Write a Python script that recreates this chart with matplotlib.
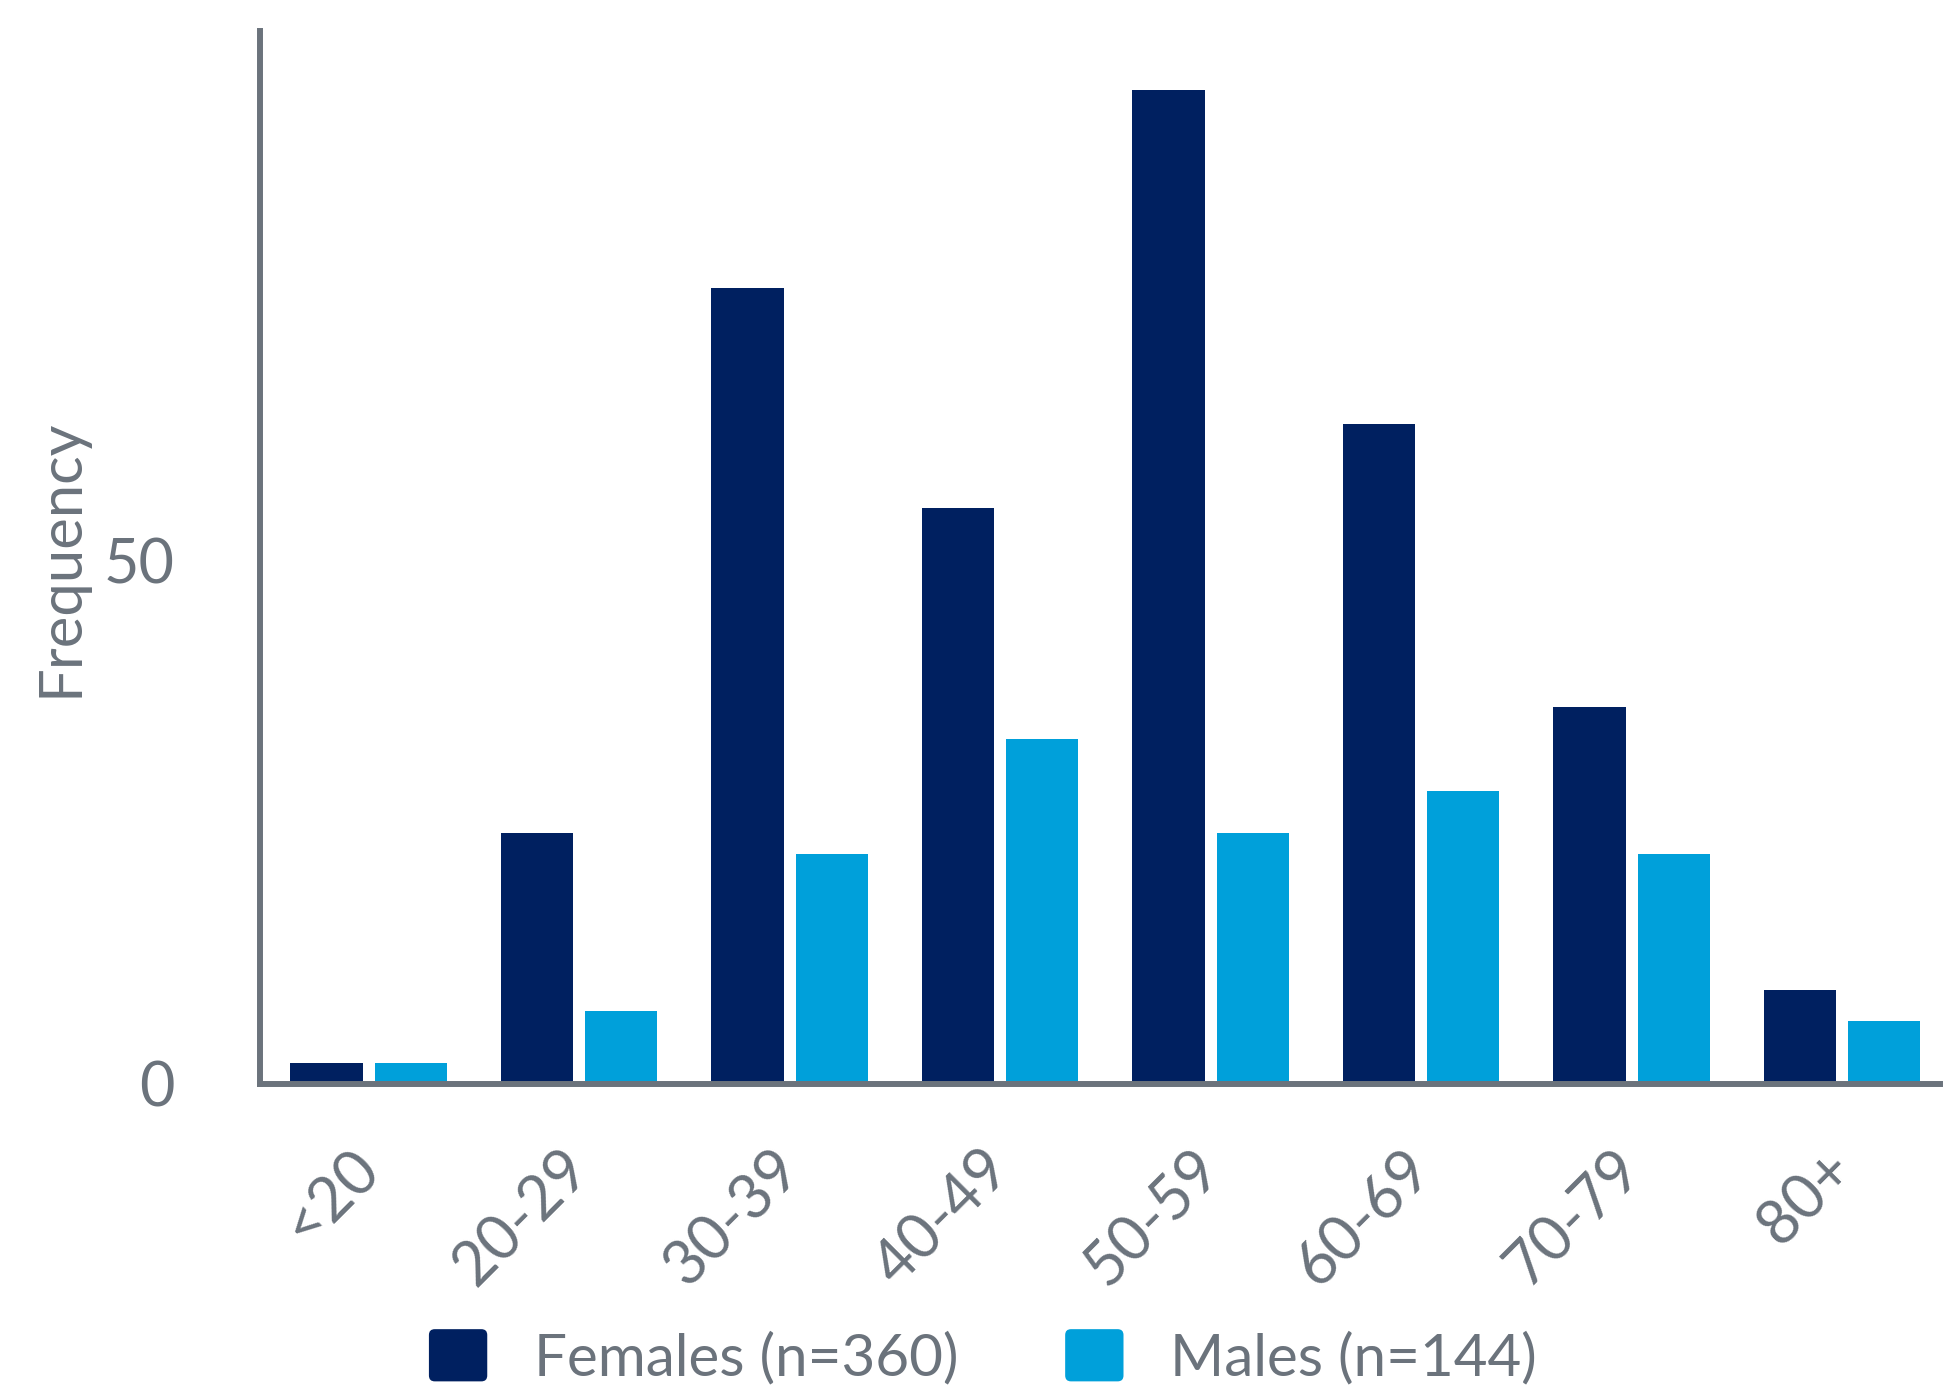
import numpy as np
import matplotlib
matplotlib.use("Agg")
import matplotlib.pyplot as plt
import matplotlib.transforms as mtransforms
from matplotlib.patches import FancyBboxPatch
from matplotlib.legend_handler import HandlerPatch

plt.rcParams['font.family'] = ['Lato', 'DejaVu Sans']

age_groups = ["<20", "20-29", "30-39", "40-49", "50-59", "60-69", "70-79", "80+"]
females = [2, 24, 76, 55, 95, 63, 36, 9]
males = [2, 7, 22, 33, 24, 28, 22, 6]
yticks = [0, 50]

grey = "#6b737c"
navy = "#002060"
cyan = "#00a0da"


class RoundBox(HandlerPatch):
    def create_artists(self, legend, orig_handle, xdescent, ydescent,
                       width, height, fontsize, trans):
        p = FancyBboxPatch((-xdescent, -ydescent), width, height,
                           boxstyle="round,pad=0,rounding_size=%f" % (width * 0.1),
                           facecolor=orig_handle.get_facecolor(), edgecolor="none")
        p.set_transform(trans)
        return [p]


fig = plt.figure(figsize=(19.58, 13.92), dpi=100)
ax = fig.add_axes([0.133, 0.2213, 0.858, 0.7565])

x = np.arange(len(age_groups))
w = 0.343
gap = 0.057
b1 = ax.bar(x - (w + gap) / 2, females, width=w, color=navy, label="Females (n=360)")
b2 = ax.bar(x + (w + gap) / 2, males, width=w, color=cyan, label="Males (n=144)")

ax.set_xlim(-0.514, 7.467)
ax.set_ylim(0, 100.6)

for s in ["top", "right"]:
    ax.spines[s].set_visible(False)
for s in ["left", "bottom"]:
    ax.spines[s].set_color(grey)
    ax.spines[s].set_linewidth(4.3)

ax.set_yticks(yticks)
ax.set_yticklabels([str(v) for v in yticks])
ax.set_xticks(x)
ax.set_xticklabels(age_groups, rotation=45, ha="right", rotation_mode="anchor")
ax.tick_params(axis="y", length=0, pad=62, labelsize=44, labelcolor=grey)
ax.tick_params(axis="x", length=0, pad=40, labelsize=44, labelcolor=grey)

# nudge the rotated labels a little to the left
shift = mtransforms.ScaledTranslation(-0.19, 0, fig.dpi_scale_trans)
for lab in ax.get_xticklabels():
    lab.set_transform(lab.get_transform() + shift)

ax.set_ylabel("Frequency", fontsize=43, color=grey)
ax.yaxis.set_label_coords(-0.103, 0.5)

fig.legend(handles=[b1.patches[0], b2.patches[0]],
           labels=["Females (n=360)", "Males (n=144)"],
           handler_map={type(b1.patches[0]): RoundBox()},
           loc="center", bbox_to_anchor=(0.502, 0.025), ncol=2, frameon=False,
           fontsize=42, labelcolor=grey, handlelength=1.0, handleheight=1.0,
           handletextpad=0.8, columnspacing=1.83)

fig.savefig("out.png", dpi=100)
